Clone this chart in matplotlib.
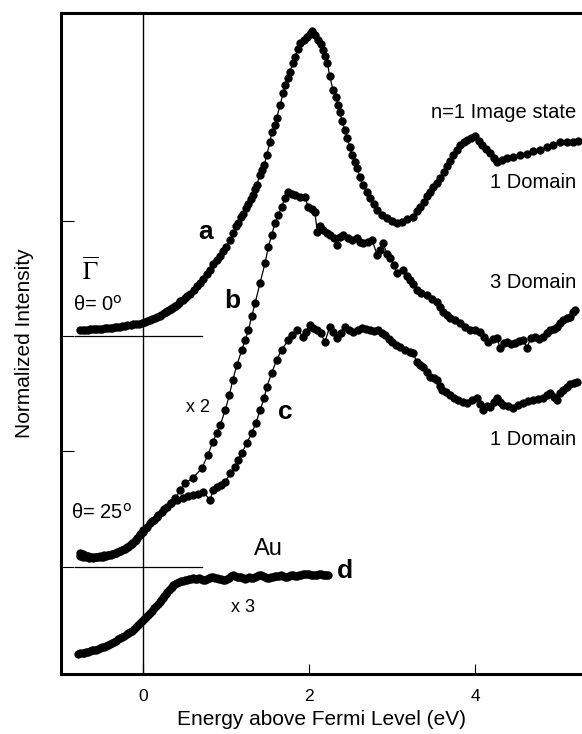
import numpy as np
import matplotlib
matplotlib.use('Agg')
import matplotlib.pyplot as plt

plt.rcParams['font.family'] = ['Liberation Sans', 'DejaVu Sans']

curve_a = np.array([
    (-0.76, 3.050), (-0.73, 3.052), (-0.70, 3.054), (-0.67, 3.055), (-0.64, 3.057), (-0.61, 3.058),
    (-0.58, 3.060), (-0.55, 3.061), (-0.52, 3.062), (-0.49, 3.064), (-0.46, 3.066), (-0.43, 3.068),
    (-0.40, 3.070), (-0.37, 3.072), (-0.34, 3.075), (-0.31, 3.078), (-0.28, 3.081), (-0.25, 3.085),
    (-0.22, 3.089), (-0.19, 3.092), (-0.15, 3.096), (-0.12, 3.100), (-0.08, 3.104), (-0.05, 3.107),
    (-0.01, 3.112), (0.02, 3.118), (0.05, 3.127), (0.08, 3.138), (0.11, 3.150), (0.14, 3.160),
    (0.17, 3.167), (0.20, 3.175), (0.22, 3.183), (0.25, 3.198), (0.27, 3.210), (0.29, 3.220),
    (0.31, 3.226), (0.33, 3.232), (0.35, 3.242), (0.37, 3.252), (0.39, 3.262), (0.41, 3.272),
    (0.43, 3.287), (0.45, 3.300), (0.48, 3.312), (0.50, 3.332), (0.53, 3.350), (0.57, 3.365),
    (0.61, 3.40), (0.65, 3.43), (0.69, 3.46), (0.72, 3.495), (0.77, 3.54), (0.81, 3.57),
    (0.84, 3.62), (0.89, 3.66), (0.93, 3.695), (0.96, 3.74), (1.00, 3.77), (1.05, 3.83),
    (1.08, 3.895), (1.12, 3.95), (1.14, 3.98), (1.18, 4.03), (1.20, 4.06), (1.24, 4.11),
    (1.27, 4.14), (1.30, 4.19), (1.33, 4.22), (1.35, 4.27), (1.37, 4.31), (1.41, 4.40),
    (1.43, 4.44), (1.46, 4.48), (1.49, 4.57), (1.53, 4.68), (1.55, 4.77), (1.59, 4.83),
    (1.61, 4.89), (1.65, 5.00), (1.69, 5.11), (1.71, 5.18), (1.75, 5.24), (1.77, 5.29),
    (1.81, 5.37), (1.83, 5.42), (1.87, 5.49), (1.89, 5.54), (1.94, 5.57), (1.98, 5.59),
    (2.01, 5.62), (2.04, 5.64), (2.07, 5.61), (2.11, 5.57), (2.14, 5.53), (2.17, 5.48),
    (2.19, 5.43), (2.22, 5.37), (2.25, 5.25), (2.29, 5.13), (2.33, 5.07), (2.35, 5.00),
    (2.37, 4.94), (2.40, 4.86), (2.43, 4.79), (2.46, 4.72), (2.49, 4.64), (2.52, 4.57),
    (2.55, 4.51), (2.58, 4.46), (2.61, 4.38), (2.65, 4.31), (2.70, 4.25), (2.73, 4.20),
    (2.78, 4.14), (2.82, 4.09), (2.88, 4.05), (2.94, 4.025), (3.00, 4.00), (3.06, 3.98),
    (3.12, 3.99), (3.18, 4.01), (3.25, 4.03), (3.30, 4.08), (3.34, 4.12), (3.39, 4.16),
    (3.42, 4.21), (3.46, 4.25), (3.49, 4.29), (3.54, 4.33), (3.58, 4.37), (3.63, 4.42),
    (3.66, 4.47), (3.70, 4.52), (3.73, 4.57), (3.78, 4.61), (3.82, 4.66), (3.87, 4.68),
    (3.90, 4.70), (3.95, 4.72), (4.00, 4.73), (4.05, 4.69), (4.08, 4.66), (4.13, 4.62),
    (4.18, 4.59), (4.23, 4.545), (4.27, 4.51), (4.33, 4.53), (4.39, 4.545), (4.46, 4.55),
    (4.54, 4.57), (4.63, 4.58), (4.70, 4.60), (4.78, 4.61), (4.87, 4.64), (4.94, 4.66),
    (5.02, 4.68), (5.11, 4.68), (5.18, 4.68), (5.24, 4.69),
])

curve_b = np.array([
    (-0.76, 1.119), (-0.73, 1.110), (-0.71, 1.102), (-0.68, 1.097), (-0.66, 1.093), (-0.63, 1.088),
    (-0.60, 1.084), (-0.57, 1.085), (-0.54, 1.084), (-0.51, 1.086), (-0.48, 1.084), (-0.45, 1.092),
    (-0.42, 1.102), (-0.39, 1.106), (-0.36, 1.110), (-0.33, 1.119), (-0.31, 1.128), (-0.28, 1.136),
    (-0.25, 1.145), (-0.22, 1.158), (-0.19, 1.171), (-0.16, 1.188), (-0.13, 1.206), (-0.10, 1.226),
    (-0.07, 1.249), (-0.04, 1.280), (0.00, 1.318), (0.05, 1.344), (0.08, 1.379), (0.13, 1.405),
    (0.17, 1.431), (0.23, 1.474), (0.29, 1.518), (0.34, 1.553), (0.39, 1.596), (0.45, 1.665),
    (0.51, 1.726), (0.60, 1.769), (0.71, 1.856), (0.78, 1.969), (0.84, 2.082), (0.89, 2.16),
    (0.93, 2.229), (0.99, 2.359), (1.04, 2.489), (1.08, 2.619), (1.13, 2.749), (1.19, 2.88),
    (1.23, 2.966), (1.27, 3.053), (1.31, 3.174), (1.35, 3.287), (1.41, 3.461), (1.47, 3.634),
    (1.51, 3.773), (1.55, 3.877), (1.59, 3.981), (1.63, 4.05), (1.67, 4.12), (1.71, 4.198),
    (1.75, 4.25), (1.80, 4.232), (1.83, 4.224), (1.89, 4.206), (1.95, 4.206), (1.99, 4.12),
    (2.04, 4.102), (2.07, 4.076), (2.10, 3.903), (2.13, 3.955), (2.17, 3.92), (2.22, 3.894),
    (2.25, 3.877), (2.30, 3.851), (2.34, 3.79), (2.37, 3.86), (2.41, 3.877), (2.47, 3.851),
    (2.52, 3.834), (2.58, 3.851), (2.61, 3.816), (2.65, 3.808), (2.71, 3.816), (2.76, 3.834),
    (2.82, 3.703), (2.86, 3.747), (2.89, 3.808), (2.94, 3.712), (2.98, 3.677), (3.02, 3.617),
    (3.06, 3.547), (3.13, 3.573), (3.18, 3.521), (3.22, 3.487), (3.25, 3.452), (3.30, 3.40),
    (3.35, 3.374), (3.42, 3.357), (3.48, 3.322), (3.54, 3.296), (3.58, 3.252), (3.61, 3.209),
    (3.66, 3.183), (3.70, 3.157), (3.76, 3.14), (3.82, 3.114), (3.88, 3.079), (3.94, 3.053),
    (4.00, 3.053), (4.06, 3.036), (4.11, 2.992), (4.16, 2.949), (4.22, 2.975), (4.27, 2.984),
    (4.30, 2.897), (4.35, 2.94), (4.39, 2.949), (4.43, 2.932), (4.48, 2.94), (4.53, 2.958),
    (4.58, 2.966), (4.63, 2.897), (4.67, 2.984), (4.72, 2.992), (4.77, 2.975), (4.82, 2.992),
    (4.87, 3.027), (4.90, 3.053), (4.95, 3.062), (4.99, 3.079), (5.02, 3.114), (5.06, 3.14),
    (5.11, 3.157), (5.14, 3.166), (5.18, 3.209), (5.20, 3.226),
])

curve_c = np.array([
    (-0.76, 1.093), (-0.72, 1.088), (-0.69, 1.084), (-0.65, 1.080), (-0.61, 1.076), (-0.57, 1.085),
    (-0.52, 1.093), (-0.47, 1.098), (-0.42, 1.102), (-0.38, 1.110), (-0.33, 1.119), (-0.28, 1.136),
    (-0.23, 1.154), (-0.18, 1.175), (-0.13, 1.197), (-0.09, 1.232), (-0.04, 1.275), (0.00, 1.305),
    (0.04, 1.336), (0.11, 1.396), (0.18, 1.448), (0.25, 1.50), (0.33, 1.553), (0.41, 1.579),
    (0.48, 1.596), (0.54, 1.613), (0.60, 1.622), (0.66, 1.63), (0.72, 1.648), (0.81, 1.579),
    (0.84, 1.665), (0.89, 1.691), (0.94, 1.709), (0.99, 1.735), (1.05, 1.813), (1.11, 1.865),
    (1.14, 1.925), (1.19, 1.986), (1.25, 2.073), (1.31, 2.16), (1.36, 2.246), (1.41, 2.359),
    (1.46, 2.463), (1.49, 2.559), (1.55, 2.68), (1.61, 2.793), (1.67, 2.88), (1.75, 2.966),
    (1.80, 3.01), (1.86, 3.053), (1.93, 2.992), (1.96, 3.036), (2.01, 3.096), (2.05, 3.07),
    (2.10, 3.053), (2.14, 3.027), (2.19, 2.949), (2.25, 3.079), (2.29, 3.036), (2.34, 2.984),
    (2.39, 3.027), (2.43, 3.079), (2.48, 3.053), (2.53, 3.036), (2.59, 3.053), (2.64, 3.07),
    (2.69, 3.062), (2.73, 3.053), (2.78, 3.044), (2.83, 3.053), (2.88, 3.027), (2.92, 3.01),
    (2.96, 2.975), (3.00, 2.949), (3.05, 2.923), (3.10, 2.905), (3.16, 2.88), (3.22, 2.862),
    (3.25, 2.853), (3.30, 2.775), (3.34, 2.749), (3.37, 2.732), (3.42, 2.689), (3.46, 2.645),
    (3.51, 2.637), (3.54, 2.619), (3.58, 2.567), (3.60, 2.533), (3.65, 2.515), (3.70, 2.489),
    (3.75, 2.463), (3.80, 2.446), (3.86, 2.428), (3.90, 2.42), (3.96, 2.446), (4.02, 2.463),
    (4.06, 2.411), (4.10, 2.359), (4.14, 2.394), (4.18, 2.385), (4.23, 2.428), (4.27, 2.463),
    (4.30, 2.428), (4.34, 2.402), (4.40, 2.394), (4.46, 2.376), (4.52, 2.402), (4.58, 2.42),
    (4.64, 2.437), (4.70, 2.446), (4.76, 2.454), (4.82, 2.463), (4.87, 2.489), (4.90, 2.507),
    (4.95, 2.472), (4.99, 2.446), (5.02, 2.507), (5.06, 2.533), (5.11, 2.559), (5.14, 2.585),
    (5.19, 2.593), (5.23, 2.60),
])

curve_d = np.array([
    (-0.78, 0.243), (-0.755, 0.248), (-0.73, 0.252), (-0.71, 0.256), (-0.69, 0.260), (-0.665, 0.265),
    (-0.64, 0.269), (-0.615, 0.274), (-0.59, 0.278), (-0.565, 0.282), (-0.54, 0.286), (-0.515, 0.295),
    (-0.49, 0.304), (-0.47, 0.308), (-0.45, 0.312), (-0.425, 0.321), (-0.40, 0.330), (-0.375, 0.338),
    (-0.35, 0.347), (-0.325, 0.360), (-0.30, 0.373), (-0.275, 0.381), (-0.25, 0.390), (-0.225, 0.403),
    (-0.20, 0.416), (-0.18, 0.425), (-0.16, 0.434), (-0.135, 0.447), (-0.11, 0.460), (-0.085, 0.477),
    (-0.06, 0.494), (-0.035, 0.511), (-0.01, 0.529), (0.015, 0.546), (0.04, 0.564), (0.06, 0.581),
    (0.08, 0.598), (0.105, 0.620), (0.13, 0.642), (0.155, 0.660), (0.18, 0.677), (0.20, 0.694),
    (0.22, 0.711), (0.235, 0.728), (0.25, 0.746), (0.27, 0.763), (0.29, 0.781), (0.31, 0.798),
    (0.33, 0.815), (0.345, 0.828), (0.36, 0.841), (0.385, 0.850), (0.41, 0.859), (0.435, 0.868),
    (0.46, 0.876), (0.485, 0.880), (0.51, 0.885), (0.53, 0.889), (0.55, 0.893), (0.575, 0.898),
    (0.60, 0.902), (0.625, 0.897), (0.65, 0.893), (0.675, 0.899), (0.70, 0.893), (0.725, 0.889),
    (0.75, 0.885), (0.775, 0.895), (0.80, 0.902), (0.82, 0.908), (0.84, 0.911), (0.865, 0.905),
    (0.89, 0.902), (0.915, 0.898), (0.94, 0.893), (0.965, 0.887), (0.99, 0.885), (1.015, 0.893),
    (1.04, 0.902), (1.06, 0.916), (1.08, 0.928), (1.105, 0.918), (1.13, 0.911), (1.155, 0.915),
    (1.18, 0.911), (1.205, 0.900), (1.23, 0.893), (1.255, 0.905), (1.28, 0.911), (1.305, 0.906),
    (1.33, 0.902), (1.35, 0.912), (1.37, 0.919), (1.395, 0.925), (1.42, 0.928), (1.445, 0.918),
    (1.47, 0.911), (1.495, 0.906), (1.52, 0.902), (1.545, 0.907), (1.57, 0.911), (1.59, 0.916),
    (1.61, 0.919), (1.635, 0.924), (1.66, 0.928), (1.685, 0.918), (1.71, 0.911), (1.735, 0.915),
    (1.76, 0.919), (1.785, 0.925), (1.81, 0.928), (1.835, 0.922), (1.86, 0.919), (1.88, 0.925),
    (1.90, 0.928), (1.925, 0.933), (1.95, 0.937), (1.975, 0.937), (2.00, 0.937), (2.025, 0.932),
    (2.05, 0.928), (2.075, 0.928), (2.10, 0.928), (2.12, 0.933), (2.14, 0.937), (2.165, 0.932),
    (2.19, 0.928), (2.21, 0.928), (2.23, 0.928),
])

# zero-intensity reference levels for the two emission angles
baselines = [3.0, 1.0]
baseline_span = (-0.82, 0.71)

fig = plt.figure(figsize=(5.82, 7.34), dpi=100)
ax = fig.add_axes([0.1048, 0.0817, 0.8952, 0.9006])

for pts in (curve_a, curve_b, curve_c, curve_d):
    ax.plot(pts[:, 0], pts[:, 1], '-', color='black', lw=0.9,
            marker='o', ms=5.0, mfc='black', mec='black')

ax.axvline(0, color='black', lw=1.0)
for yb in baselines:
    ax.plot(baseline_span, [yb, yb], color='black', lw=0.9)

ax.set_xlim(-0.99, 5.29)
ax.set_ylim(0.07, 5.80)
ax.set_xticks([0, 2, 4])
ax.set_yticks([1, 2, 3, 4])
ax.set_yticklabels([])
ax.tick_params(axis='both', direction='in', width=0.8, labelsize=12.5)
ax.tick_params(axis='x', length=7, pad=11)
ax.tick_params(axis='y', length=9)
for s in ('left', 'bottom', 'top'):
    ax.spines[s].set_linewidth(2.2)
ax.spines['right'].set_visible(False)

ax.set_xlabel('Energy above Fermi Level (eV)', fontsize=15, labelpad=4)
ax.set_ylabel('Normalized Intensity', fontsize=15, labelpad=16)

# curve labels
ax.text(5.22, 4.935, 'n=1 Image state', fontsize=14.5, ha='right', va='center')
ax.text(5.22, 4.33, '1 Domain', fontsize=14.5, ha='right', va='center')
ax.text(5.22, 3.46, '3 Domain', fontsize=14.5, ha='right', va='center')
ax.text(5.22, 2.10, '1 Domain', fontsize=14.5, ha='right', va='center')
ax.text(0.75, 3.90, 'a', fontsize=19, fontweight='bold', ha='center', va='center')
ax.text(1.08, 3.30, 'b', fontsize=19, fontweight='bold', ha='center', va='center')
ax.text(1.71, 2.34, 'c', fontsize=19, fontweight='bold', ha='center', va='center')
ax.text(2.43, 0.96, 'd', fontsize=19, fontweight='bold', ha='center', va='center')
ax.text(0.66, 2.38, 'x 2', fontsize=13, ha='center', va='center')
ax.text(1.20, 0.65, 'x 3', fontsize=13, ha='center', va='center')
ax.text(1.51, 1.15, 'Au', fontsize=17, ha='center', va='center')
ax.text(-0.64, 3.57, r'$\overline{\Gamma}$', fontsize=18, ha='center', va='center',
        math_fontfamily='stix')
ax.text(-0.54, 3.27, 'θ= 0$^\\mathrm{o}$', fontsize=14.5, ha='center', va='center')
ax.text(-0.50, 1.47, 'θ= 25$^\\mathrm{o}$', fontsize=14.5, ha='center', va='center')

fig.savefig('out.png', dpi=100)
